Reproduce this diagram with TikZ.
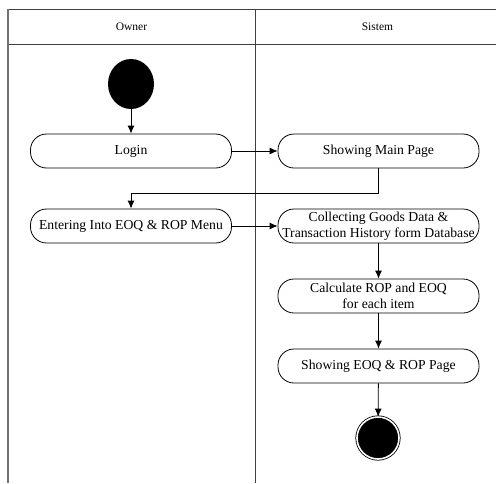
\documentclass[tikz,border=0pt]{standalone}
\usepackage{fontspec}
\setmainfont{Liberation Serif}
\usetikzlibrary{arrows.meta,shapes.geometric}

\tikzset{
	lane/.style={line width=0.8pt, black!75},
	act/.style={draw, line width=0.8pt, rounded corners=16pt, minimum width=201pt, minimum height=34pt, inner sep=0pt, align=center, font=\fontsize{13.7}{16.5}\selectfont},
	flow/.style={line width=0.8pt, -{Latex[length=8pt,width=7pt]}},
	lanetitle/.style={font=\fontsize{11.5}{13}\selectfont}
}

\begin{document}
\begin{tikzpicture}[x=1pt, y=-1pt]
	\useasboundingbox (0, 0) rectangle (496, 483);

	\draw [lane] (8, 9) -- (496, 9);
	\draw [lane] (8, 44) -- (496, 44);
	\draw [lane, black!55, line width=1.6pt] (8, 9) -- (8, 483);
	\draw [lane] (255, 9) -- (255, 483);

	\node [lanetitle] (owner) at (131.5, 27) {Owner};
	\node [lanetitle] (sistem) at (377.5, 27) {Sistem};

	\node [ellipse, fill=black, minimum width=46pt, minimum height=50pt, inner sep=0pt] (start) at (131, 84) {};

	\node [act] (login) at (131, 151) {Login};
	\node [act] (mainpage) at (378.5, 151) {Showing Main Page};
	\node [act] (menu) at (131, 226) {Entering Into EOQ \& ROP Menu};
	\node [act] (collect) at (378.5, 226) {Collecting Goods Data \&\\Transaction History form Database};
	\node [act] (calc) at (378.5, 296) {Calculate ROP and EOQ\\for each item};
	\node [act] (eoqpage) at (378.5, 366) {Showing EOQ \& ROP Page};

	\node [circle, draw, fill=black, line width=0.8pt, double=white, double distance=1.6pt, minimum size=42pt, inner sep=0pt] (finish) at (378, 438) {};

	\draw [flow] (start) -- (login);
	\draw [flow] (login) -- (mainpage);
	\draw [flow] (mainpage.south) -- ++(0, 25) -| (menu.north);
	\draw [flow] (menu) -- (collect);
	\draw [flow] (collect) -- (calc);
	\draw [flow] (calc) -- (eoqpage);
	\draw [flow] (eoqpage) -- (finish);
\end{tikzpicture}
\end{document}
